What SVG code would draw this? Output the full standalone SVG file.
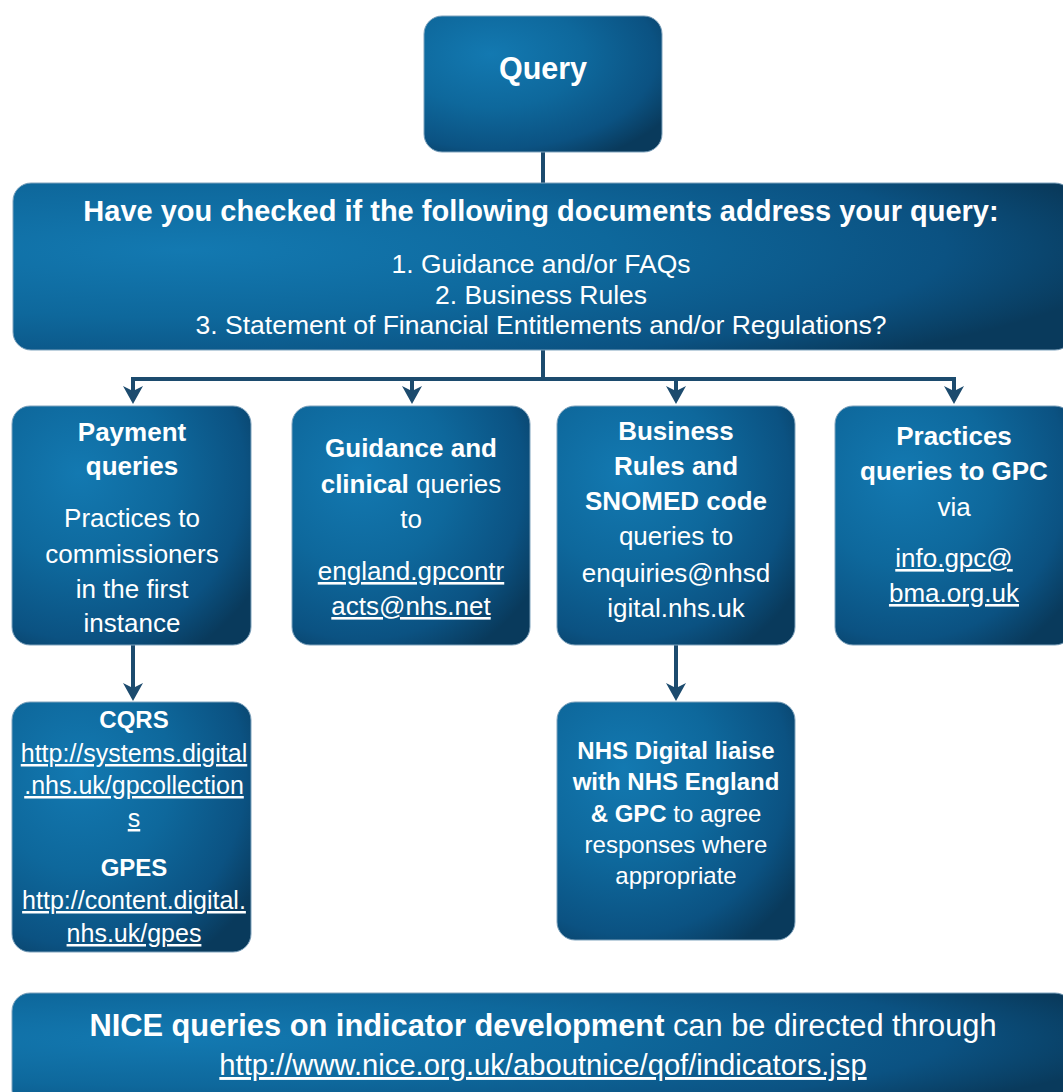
<svg xmlns="http://www.w3.org/2000/svg" width="1063" height="1092" viewBox="0 0 1063 1092">
<defs>
<radialGradient id="gBox" cx="0.3" cy="0.3" r="0.85" fx="0.28" fy="0.28">
<stop offset="0" stop-color="#1379b1"/>
<stop offset="0.45" stop-color="#0e689c"/>
<stop offset="0.8" stop-color="#0b5282"/>
<stop offset="1" stop-color="#093a5c"/>
</radialGradient>
<radialGradient id="gWide" cx="0.16" cy="0.4" r="0.9" fx="0.16" fy="0.4">
<stop offset="0" stop-color="#1379b1"/>
<stop offset="0.45" stop-color="#0e689c"/>
<stop offset="0.8" stop-color="#0b5282"/>
<stop offset="1" stop-color="#093a5c"/>
</radialGradient>
<marker id="arr" viewBox="0 0 18 20" markerUnits="userSpaceOnUse" markerWidth="18" markerHeight="20" refX="5" refY="10" orient="auto">
<path d="M0,0 L18,10 L0,20 L5,10 Z" fill="#1c4b6e"/>
</marker>
<style>
.box{fill:url(#gBox);stroke:#7fa3bd;stroke-width:1}
.wide{fill:url(#gWide);stroke:#7fa3bd;stroke-width:1}
.t{font-family:"Liberation Sans",Arial,sans-serif;fill:#fff;text-anchor:middle}
.b{font-weight:bold}
.u{text-decoration:underline}
.c{fill:none;stroke:#1c4b6e;stroke-width:4;stroke-linejoin:miter}
</style>
</defs>
<rect width="1063" height="1092" fill="#fff"/>
<g id="connectors">
<path class="c" d="M543,152 V183"/>
<path class="c" d="M543,350 V379 H133 V391" marker-end="url(#arr)"/>
<path class="c" d="M543,350 V379 H412 V391" marker-end="url(#arr)"/>
<path class="c" d="M543,350 V379 H676 V391" marker-end="url(#arr)"/>
<path class="c" d="M543,350 V379 H954 V391" marker-end="url(#arr)"/>
<path class="c" d="M133,645 V688" marker-end="url(#arr)"/>
<path class="c" d="M676,645 V688" marker-end="url(#arr)"/>
</g>
<g id="query">
<rect class="box" x="424" y="16" width="238" height="136" rx="18"/>
<text class="t b" x="543" y="79" font-size="30.5">Query</text>
</g>
<g id="check">
<rect class="wide" x="13" y="183" width="1060" height="167" rx="18"/>
<text class="t b" x="541" y="221" font-size="29">Have you checked if the following documents address your query:</text>
<text class="t" x="541" y="273" font-size="26.5">1. Guidance and/or FAQs</text>
<text class="t" x="541" y="304" font-size="26.5">2. Business Rules</text>
<text class="t" x="541" y="334" font-size="26.5">3. Statement of Financial Entitlements and/or Regulations?</text>
</g>
<g id="payment">
<rect class="box" x="12" y="406" width="239" height="239" rx="18"/>
<text class="t b" x="132" y="441" font-size="26">Payment</text>
<text class="t b" x="132" y="475" font-size="26">queries</text>
<text class="t" x="132" y="527" font-size="26">Practices to</text>
<text class="t" x="132" y="563" font-size="26">commissioners</text>
<text class="t" x="132" y="598" font-size="26">in the first</text>
<text class="t" x="132" y="632" font-size="26">instance</text>
</g>
<g id="guidance">
<rect class="box" x="292" y="406" width="238" height="239" rx="18"/>
<text class="t b" x="411" y="457" font-size="26">Guidance and</text>
<text class="t" x="411" y="493" font-size="26"><tspan class="b">clinical</tspan> queries</text>
<text class="t" x="411" y="528" font-size="26">to</text>
<text class="t u" x="411" y="580" font-size="26">england.gpcontr</text>
<text class="t u" x="411" y="615" font-size="26">acts@nhs.net</text>
</g>
<g id="business">
<rect class="box" x="557" y="406" width="238" height="239" rx="18"/>
<text class="t b" x="676" y="440" font-size="26">Business</text>
<text class="t b" x="676" y="475" font-size="26">Rules and</text>
<text class="t b" x="676" y="510" font-size="26">SNOMED code</text>
<text class="t" x="676" y="545" font-size="26">queries to</text>
<text class="t" x="676" y="582" font-size="26">enquiries@nhsd</text>
<text class="t" x="676" y="617" font-size="26">igital.nhs.uk</text>
</g>
<g id="gpc">
<rect class="box" x="835" y="406" width="238" height="239" rx="18"/>
<text class="t b" x="954" y="445" font-size="26">Practices</text>
<text class="t b" x="954" y="480" font-size="26">queries to GPC</text>
<text class="t" x="954" y="516" font-size="26">via</text>
<text class="t u" x="954" y="567" font-size="26">info.gpc@</text>
<text class="t u" x="954" y="602" font-size="26">bma.org.uk</text>
</g>
<g id="cqrs">
<rect class="box" x="12" y="702" width="239" height="250" rx="18"/>
<text class="t b" x="134" y="728" font-size="24">CQRS</text>
<text class="t u" x="134" y="762" font-size="25">http://systems.digital</text>
<text class="t u" x="134" y="794" font-size="25">.nhs.uk/gpcollection</text>
<text class="t u" x="134" y="827" font-size="25">s</text>
<text class="t b" x="134" y="876" font-size="24">GPES</text>
<text class="t u" x="134" y="909" font-size="25">http://content.digital.</text>
<text class="t u" x="134" y="942" font-size="25">nhs.uk/gpes</text>
</g>
<g id="nhsdigital">
<rect class="box" x="557" y="702" width="238" height="238" rx="18"/>
<text class="t b" x="676" y="759" font-size="24">NHS Digital liaise</text>
<text class="t b" x="676" y="790" font-size="24">with NHS England</text>
<text class="t" x="676" y="822" font-size="24"><tspan class="b">&amp; GPC</tspan> to agree</text>
<text class="t" x="676" y="853" font-size="24">responses where</text>
<text class="t" x="676" y="884" font-size="24">appropriate</text>
</g>
<g id="nice">
<rect class="wide" x="12" y="993" width="1061" height="115" rx="18"/>
<text class="t" x="543" y="1036" font-size="30.8"><tspan class="b">NICE queries on indicator development</tspan> can be directed through</text>
<text class="t u" x="543" y="1075" font-size="29.2">http://www.nice.org.uk/aboutnice/qof/indicators.jsp</text>
</g>
</svg>
